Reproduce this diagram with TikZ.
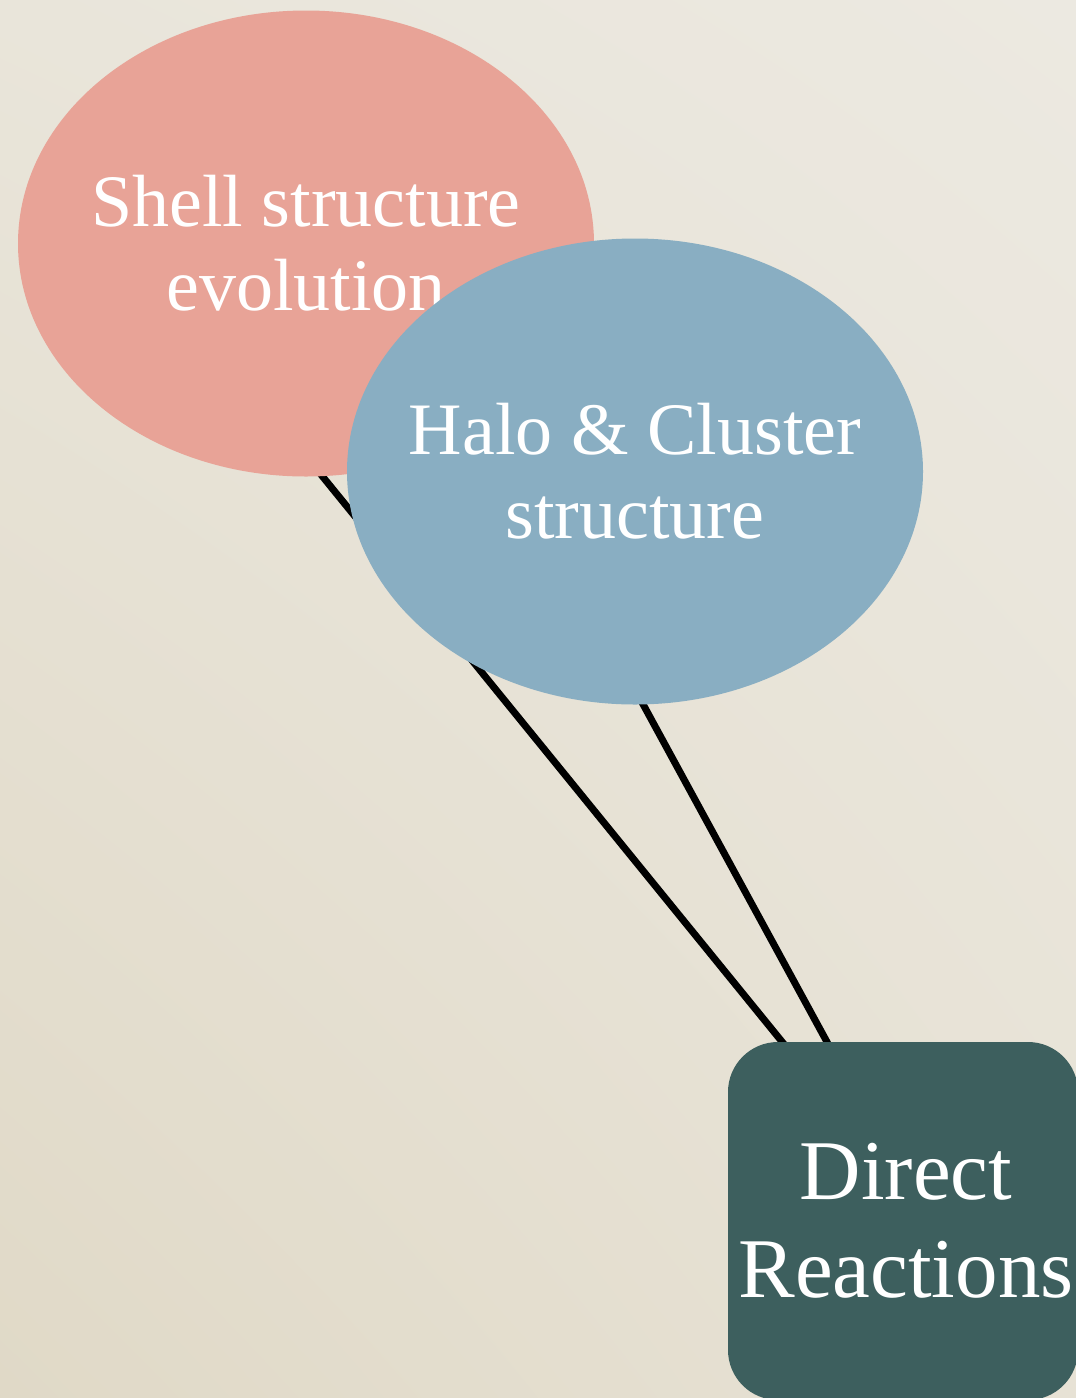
\documentclass[tikz,border=0pt]{standalone}
\usepackage{fontspec}
\setmainfont{Liberation Serif}
\usetikzlibrary{shapes.geometric,shadings}
\pgfdeclarelayer{bg}
\pgfdeclarelayer{lines}
\pgfsetlayers{bg,lines,main}
\definecolor{pinkfill}{HTML}{E8A397}
\definecolor{bluefill}{HTML}{89AEC2}
\definecolor{tealfill}{HTML}{3D5F5E}
\definecolor{bgUL}{HTML}{E9E5DA}
\definecolor{bgUR}{HTML}{ECE9E1}
\definecolor{bgLL}{HTML}{E0D9C7}
\definecolor{bgLR}{HTML}{E7E2D5}
\tikzset{
  bubble/.style={ellipse, inner xsep=-200pt, inner ysep=-150pt, outer sep=0pt, minimum width=576pt, minimum height=466pt,
    text=white, align=center, font=\fontsize{74}{84}\selectfont},
  boxnode/.style={rectangle, rounded corners=50pt, inner sep=0pt, outer sep=0pt,
    minimum width=350pt, minimum height=358pt, fill=tealfill, text=white, align=center,
    font=\fontsize{85}{98}\selectfont},
  link/.style={line width=7pt, black, shorten <=-5pt, shorten >=-5pt}
}
\begin{document}
\begin{tikzpicture}[x=1pt,y=-1pt]
\useasboundingbox (0,0) rectangle (1076,1398);
\begin{pgfonlayer}{bg}
  \shade[upper left=bgUL, upper right=bgUR, lower left=bgLL, lower right=bgLR] (0,0) rectangle (1076,1398);
\end{pgfonlayer}
\node[bubble, fill=pinkfill] (shell) at (306,243.5) {Shell structure\\evolution};
\node[bubble, fill=bluefill] (halo) at (635,471.5) {Halo \& Cluster\\structure};
\node[boxnode] (direct) at (903,1221) {\hspace*{6pt}Direct\\\hspace*{6pt}Reactions};
\begin{pgfonlayer}{lines}
  \draw[link] (shell.-86.5) -- (direct.124.9);
  \draw[link] (halo.-88) -- (direct.113.3);
\end{pgfonlayer}
\end{tikzpicture}
\end{document}
